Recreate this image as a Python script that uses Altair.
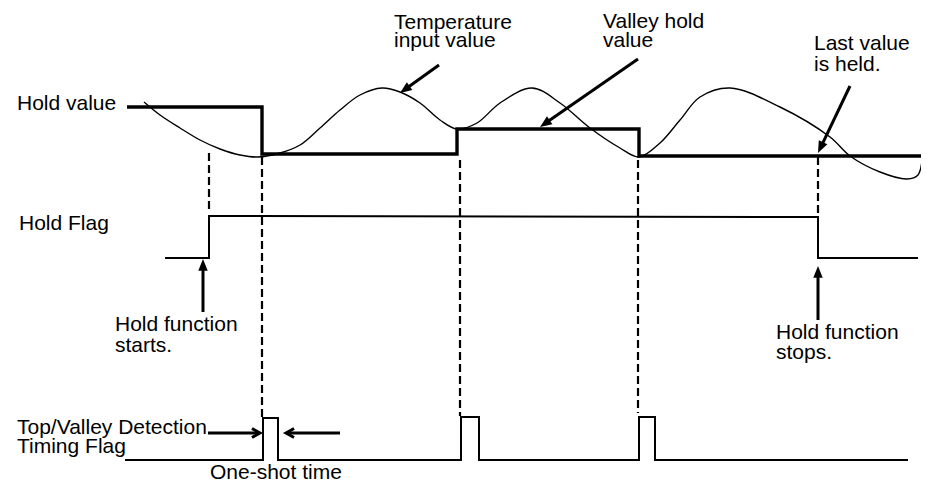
import math
import altair as alt

# ---- data (time axis -> x, signal level -> y, in picture units) ----
# Temperature input value (thin smooth curve)
temp_t = [144, 160, 180, 200, 220, 240, 258, 280, 300, 320, 340, 360, 382, 400, 420, 440, 457,
          477, 500, 532, 560, 590, 620, 639, 660, 680, 700, 730, 780, 830, 850, 880, 907, 918,
          923, 926]
temp_v = [102, 115, 128, 140, 149, 155, 157, 153, 145, 128, 110, 95, 88, 92, 103, 120, 129,
          123, 103, 88, 103, 128, 148, 157, 143, 120, 97, 88, 107, 137, 156, 172, 179, 175,
          153, 117]

# Valley hold value (thick step line)
hold_t = [127, 262, 262, 457, 457, 639, 639, 923]
hold_v = [107, 107, 154, 154, 129, 129, 156, 156]

# Hold flag
flag_t = [165, 209, 209, 818, 818, 918]
flag_v = [258, 258, 216, 217, 258, 258]

# Top/Valley detection timing flag (one-shot pulses)
tim_t = [125, 263, 263, 278, 278, 461, 461, 479, 479, 639, 639, 655, 655, 908]
tim_v = [460, 460, 418, 418, 460, 460, 417, 417, 460, 460, 417, 417, 460, 460]

# Dashed event markers
dash_t = [209, 262, 460, 638, 818]
dash_top = [153, 157, 160, 160, 157]
dash_bot = [213, 418, 416, 413, 213]

# Annotation arrows (tail -> tip)
arr_x0 = [439, 638, 850, 203, 818, 208, 340]
arr_y0 = [65, 59, 86, 312, 320, 433, 433]
arr_x1 = [400, 540, 818, 203, 818, 260, 286]
arr_y1 = [93, 127, 153, 259, 266, 433, 433]
arr_kind = ["solid", "solid", "solid", "solid", "solid", "open", "open"]

# Label lines (one row per text line, with its own baseline)
lab_text = ["Hold value", "Hold Flag",
            "Temperature", "input value",
            "Valley hold", "value",
            "Last value", "is held.",
            "Hold function", "starts.",
            "Hold function", "stops.",
            "Top/Valley Detection", "Timing Flag",
            "One-shot time"]
lab_x = [17, 19, 394, 394, 603, 603, 814, 814, 115, 115, 776, 776, 17, 17, 210]
lab_y = [110, 230, 29, 47, 28, 47, 50, 71, 331, 352, 339, 359, 434, 453, 479]

# ---- build tables ----
W, H = 913, 473
X = alt.Scale(domain=[8, 8 + W], nice=False, zero=False)
Y = alt.Scale(domain=[8, 8 + H], reverse=True, nice=False, zero=False)


def series(t, v):
    return alt.Data(values=[{"t": a, "v": b, "i": k} for k, (a, b) in enumerate(zip(t, v))])


dash = alt.Data(values=[{"t": a, "top": b, "bot": c} for a, b, c in zip(dash_t, dash_top, dash_bot)])

arr_rows = []
for x0, y0, x1, y1, kind in zip(arr_x0, arr_y0, arr_x1, arr_y1, arr_kind):
    dx, dy = x1 - x0, y1 - y0
    L = math.hypot(dx, dy)
    back = 6 if kind == "solid" else 1
    arr_rows.append({
        "x0": x0, "y0": y0, "x1": x1, "y1": y1, "kind": kind,
        "ang": (math.degrees(math.atan2(dx, -dy)) + 360) % 360,
        "xs": x1 - dx / L * back, "ys": y1 - dy / L * back,
    })
arr_all = alt.Data(values=arr_rows)
arr_solid = alt.Data(values=[r for r in arr_rows if r["kind"] == "solid"])
arr_open = alt.Data(values=[r for r in arr_rows if r["kind"] == "open"])

labels = alt.Data(values=[{"text": s, "x": a, "y": b} for s, a, b in zip(lab_text, lab_x, lab_y)])


def line(data, width, interp="linear"):
    return alt.Chart(data).mark_line(color="black", strokeWidth=width, interpolate=interp,
                                     strokeJoin="miter").encode(
        x=alt.X("t:Q", scale=X, axis=None),
        y=alt.Y("v:Q", scale=Y, axis=None),
        order="i:Q",
    )


temp_layer = line(series(temp_t, temp_v), 1.4, "catmull-rom")
hold_layer = line(series(hold_t, hold_v), 3.4)
flag_layer = line(series(flag_t, flag_v), 2)
tim_layer = line(series(tim_t, tim_v), 2)

dash_layer = alt.Chart(dash).mark_rule(color="black", strokeWidth=2.2, strokeDash=[8, 4]).encode(
    x=alt.X("t:Q", scale=X, axis=None),
    y=alt.Y("top:Q", scale=Y, axis=None),
    y2="bot:Q",
)

shafts = alt.Chart(arr_all).mark_rule(color="black", strokeWidth=3).encode(
    x=alt.X("x0:Q", scale=X, axis=None),
    y=alt.Y("y0:Q", scale=Y, axis=None),
    x2="xs:Q",
    y2="ys:Q",
)

heads_solid = alt.Chart(arr_solid).mark_point(
    shape="M0,0L-0.4,1L0.4,1Z", filled=True, color="black", opacity=1, size=560, strokeWidth=0
).encode(
    x=alt.X("x1:Q", scale=X, axis=None),
    y=alt.Y("y1:Q", scale=Y, axis=None),
    angle=alt.Angle("ang:Q", scale=None),
)

heads_open = alt.Chart(arr_open).mark_point(
    shape="M-0.5,0.9L0,0L0.5,0.9", filled=False, color="black", opacity=1, size=320, strokeWidth=3
).encode(
    x=alt.X("x1:Q", scale=X, axis=None),
    y=alt.Y("y1:Q", scale=Y, axis=None),
    angle=alt.Angle("ang:Q", scale=None),
)

text_layer = alt.Chart(labels).mark_text(
    align="left", baseline="alphabetic", font="Liberation Sans", fontSize=21, color="black"
).encode(
    x=alt.X("x:Q", scale=X, axis=None),
    y=alt.Y("y:Q", scale=Y, axis=None),
    text="text:N",
)

chart = alt.layer(
    dash_layer, temp_layer, hold_layer, flag_layer, tim_layer,
    shafts, heads_solid, heads_open, text_layer
).properties(
    width=W, height=H, autosize=alt.AutoSizeParams(type="none"), padding=0, background="white"
).configure_view(strokeWidth=0)

chart.save("out.html", embed_options={"renderer": "svg", "actions": False})
